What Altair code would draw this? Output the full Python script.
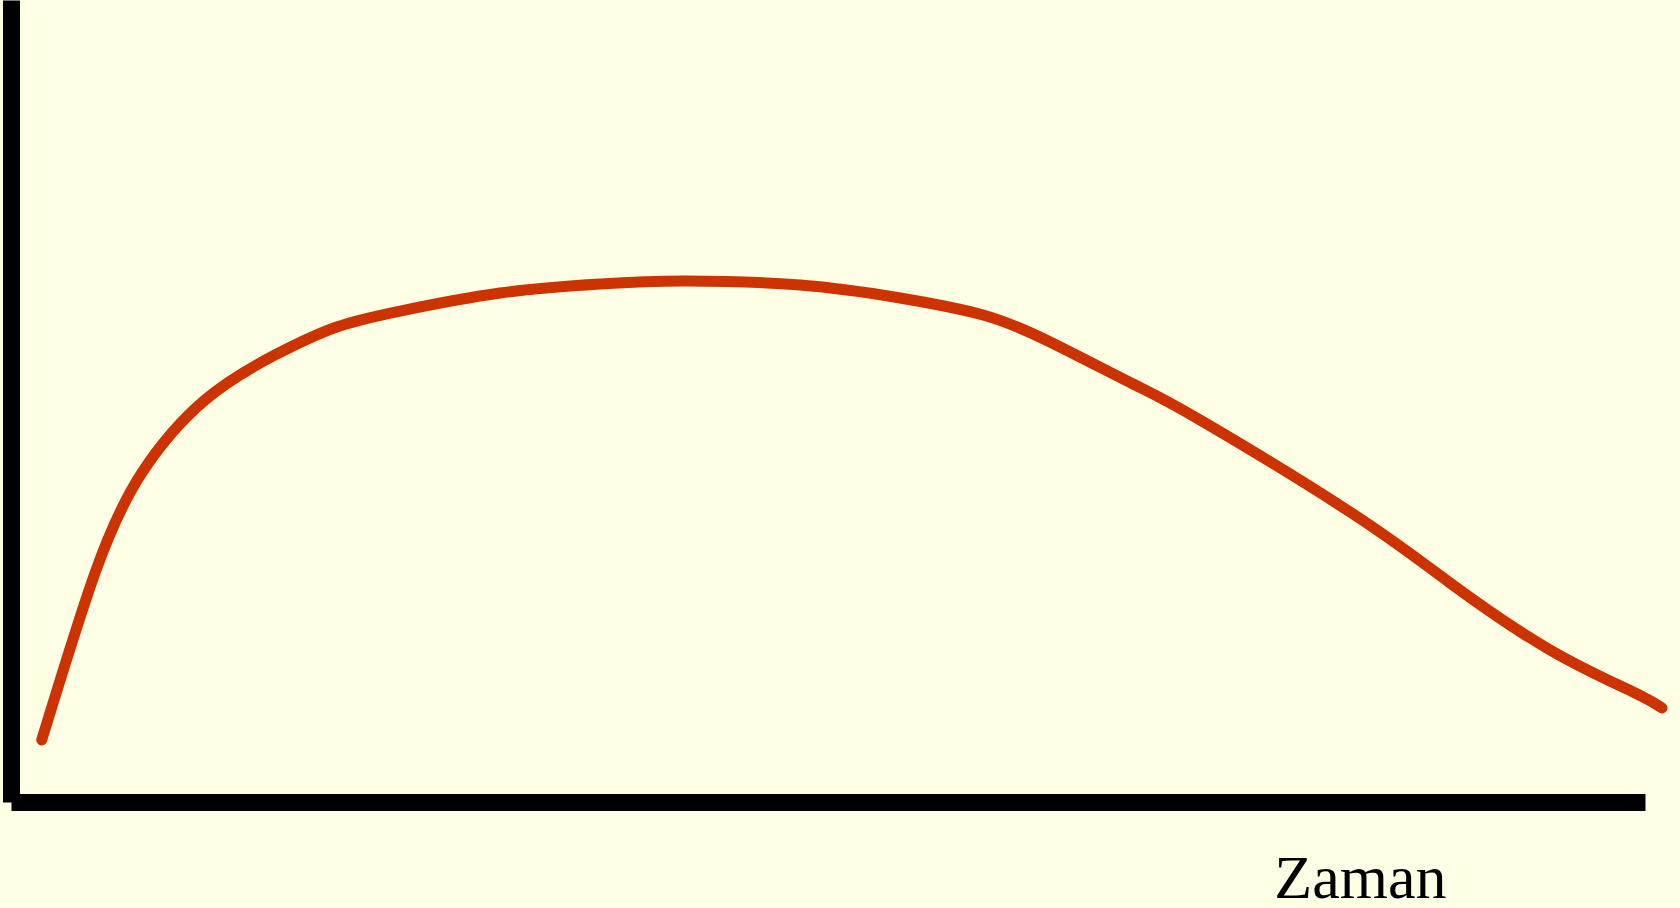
import altair as alt
import pandas as pd

# Time (percent of axis length) and value (percent of axis height)
time_vals = [1.88, 5.14, 8.00, 11.87, 16.16, 19.93, 23.81, 29.93, 36.05, 41.13, 48.29,
             54.41, 59.49, 63.59, 68.67, 72.77, 81.95, 88.07, 94.19, 99.27, 101.04]
value_vals = [7.73, 28.55, 41.02, 50.12, 55.74, 59.23, 61.22, 63.47, 64.59, 64.96, 64.46,
              62.84, 60.72, 57.36, 52.12, 47.63, 36.16, 27.31, 18.95, 13.72, 11.72]
x_title = "Zaman"

df = pd.DataFrame({"t": time_vals, "v": value_vals})

chart = alt.Chart(df).mark_line(
    color="#CC3300", strokeWidth=11, strokeCap="round", strokeJoin="round",
    interpolate="natural", clip=False
).encode(
    x=alt.X("t:Q", scale=alt.Scale(domain=[0, 100], nice=False, zero=False),
            axis=alt.Axis(title=x_title, labels=False, ticks=False, grid=False,
                          domainColor="black", domainWidth=17,
                          titleFont="Liberation Serif", titleFontSize=62,
                          titleFontWeight="normal", titleColor="black",
                          titleX=1435, titleY=95, titleAlign="right",
                          titleBaseline="alphabetic")),
    y=alt.Y("v:Q", scale=alt.Scale(domain=[0, 100], nice=False, zero=False),
            axis=alt.Axis(title=None, labels=False, ticks=False, grid=False,
                          domainColor="black", domainWidth=17)),
).properties(
    width=1634, height=802,
    padding={"left": 11, "top": 0, "right": 35, "bottom": 106},
    autosize="none",
    background="#FFFFE6",
).configure_view(strokeWidth=0)

chart.save("out.html", embed_options={"renderer": "svg", "actions": False})
